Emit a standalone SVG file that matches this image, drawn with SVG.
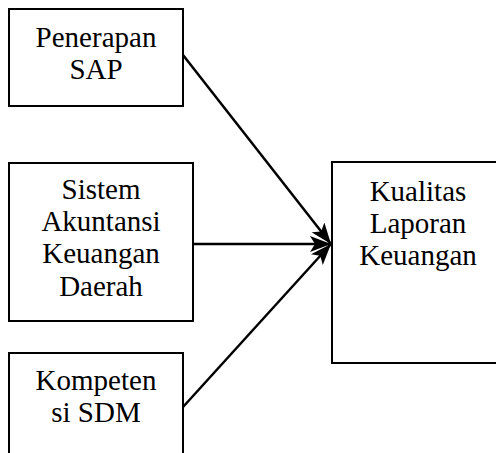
<svg xmlns="http://www.w3.org/2000/svg" width="496" height="453" viewBox="0 0 496 453">
  <style>
    .box { fill: #ffffff; stroke: #000000; stroke-width: 2; }
    .lbl { font-family: "Liberation Serif", "Times New Roman", serif; font-size: 29px; fill: #000000; text-anchor: middle; }
    .edge { stroke: #000000; stroke-width: 2.5; fill: none; marker-end: url(#head); }
  </style>
  <defs>
    <marker id="head" markerUnits="userSpaceOnUse" markerWidth="22" markerHeight="16" refX="21" refY="8" orient="auto">
      <path d="M0,0 L21,8 L0,16 L5,8 Z" fill="#000000"/>
    </marker>
  </defs>
  <rect width="496" height="453" fill="#ffffff"/>

  <g id="penerapan-sap">
    <rect class="box" x="9" y="9" width="174" height="97"/>
    <text class="lbl" x="96" y="47">Penerapan</text>
    <text class="lbl" x="96" y="79">SAP</text>
  </g>

  <g id="sistem-akuntansi">
    <rect class="box" x="9" y="163" width="184" height="158"/>
    <text class="lbl" x="101" y="199">Sistem</text>
    <text class="lbl" x="101" y="231">Akuntansi</text>
    <text class="lbl" x="101" y="263">Keuangan</text>
    <text class="lbl" x="101" y="296">Daerah</text>
  </g>

  <g id="kompetensi-sdm">
    <rect class="box" x="9" y="353" width="174" height="110"/>
    <text class="lbl" x="96" y="390">Kompeten</text>
    <text class="lbl" x="96" y="422">si SDM</text>
  </g>

  <g id="kualitas-laporan">
    <rect class="box" x="332" y="162" width="172" height="201"/>
    <text class="lbl" x="418" y="201">Kualitas</text>
    <text class="lbl" x="418" y="233">Laporan</text>
    <text class="lbl" x="418" y="265">Keuangan</text>
  </g>

  <g id="connectors">
    <line class="edge" x1="183" y1="55" x2="331" y2="244"/>
    <line class="edge" x1="193" y1="244" x2="331" y2="244"/>
    <line class="edge" x1="183" y1="407" x2="331" y2="244"/>
  </g>
</svg>
